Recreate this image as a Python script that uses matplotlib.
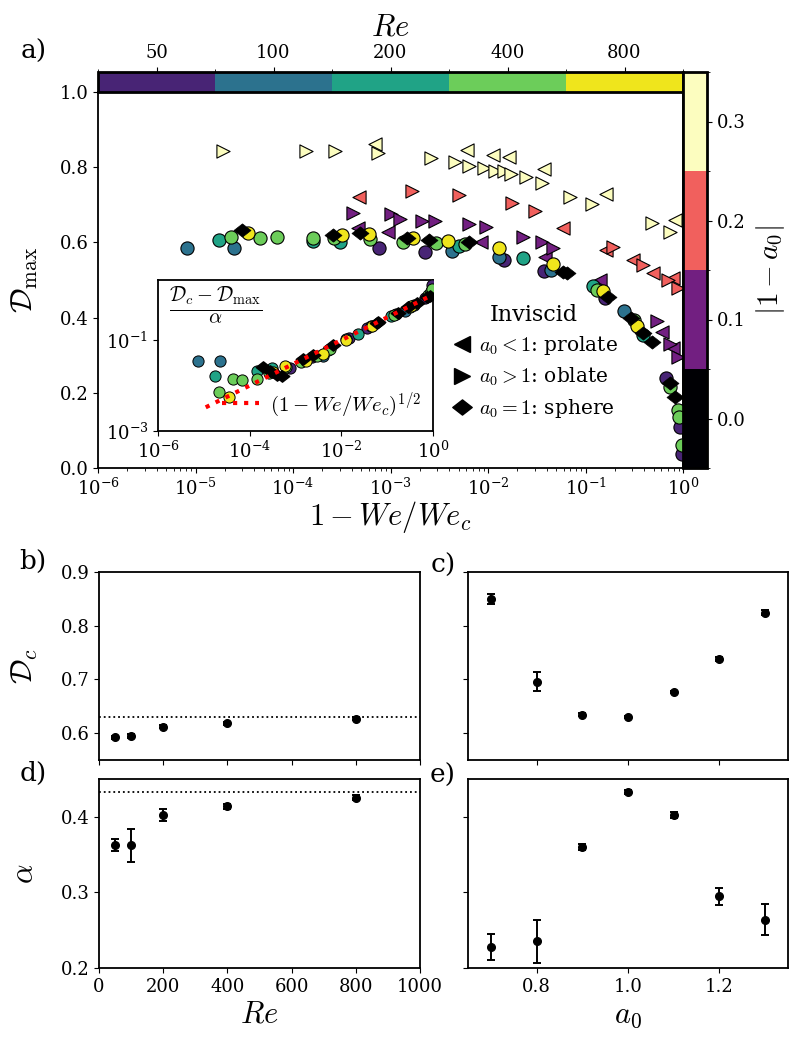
import numpy as np
import matplotlib
matplotlib.use("Agg")
import matplotlib.pyplot as plt
from matplotlib.colors import ListedColormap, BoundaryNorm
from matplotlib.lines import Line2D
from matplotlib.path import Path
import matplotlib.cm as cm

plt.rcParams['font.family'] = ['DejaVu Serif']
plt.rcParams['mathtext.fontset'] = 'cm'
plt.rcParams['axes.unicode_minus'] = False
plt.rcParams['axes.linewidth'] = 1.3
plt.rcParams['xtick.labelsize'] = 13
plt.rcParams['ytick.labelsize'] = 13

# ==========================================
# data
# ==========================================
re_vals = [50, 100, 200, 400, 800]
re_colors = ['#482475', '#2c728e', '#20a386', '#6ccd5a', '#efe51c']

# panel a: log10(1 - We/We_c) and D_max, viscous spheres (circles)
re50_lx = [-3.12, -2.65, -1.84, -1.43, -0.80, -0.17, -0.03, -0.015]
re50_d = [0.584, 0.574, 0.553, 0.525, 0.451, 0.240, 0.110, 0.036]
re100_lx = [-5.09, -4.61, -2.37, -1.89, -1.35, -0.61]
re100_d = [0.584, 0.584, 0.577, 0.562, 0.527, 0.417]
re200_lx = [-4.756, -3.80, -3.518, -2.30, -1.64, -0.92, -0.41]
re200_d = [0.606, 0.604, 0.602, 0.590, 0.559, 0.483, 0.355]
re400_lx = [-4.636, -4.34, -4.16, -3.80, -3.576, -3.21, -2.87, -2.53, -2.24,
            -0.88, -0.50, -0.13, -0.05, -0.04, -0.015]
re400_d = [0.615, 0.612, 0.614, 0.613, 0.611, 0.608, 0.602, 0.599, 0.595,
           0.473, 0.394, 0.216, 0.154, 0.136, 0.061]
re800_lx = [-4.46, -3.50, -3.217, -2.77, -2.41, -1.89, -1.33, -0.82, -0.475]
re800_d = [0.626, 0.620, 0.622, 0.611, 0.604, 0.586, 0.543, 0.472, 0.378]
re_lx = [re50_lx, re100_lx, re200_lx, re400_lx, re800_lx]
re_d = [re50_d, re100_d, re200_d, re400_d, re800_d]

# inviscid sphere a0 = 1 (diamonds)
sph_lx = [-4.526, -3.593, -3.313, -2.83, -2.61, -2.19, -1.23, -1.19, -0.77,
          -0.53, -0.41, -0.32, -0.13, -0.085]
sph_d = [0.633, 0.620, 0.624, 0.611, 0.606, 0.600, 0.522, 0.518, 0.456,
         0.398, 0.358, 0.336, 0.225, 0.190]

# inviscid spheroids (triangles)
a0_07_lx = [-3.159, -2.22, -1.95, -1.78, -1.43, -0.785, -0.08]
a0_07_d = [0.862, 0.846, 0.832, 0.828, 0.794, 0.729, 0.660]
a0_08_lx = [-3.32, -1.23, -0.79, -0.51, -0.31, -0.10]
a0_08_d = [0.720, 0.639, 0.580, 0.553, 0.518, 0.504]
a0_09_lx = [-3.33, -3.03, -2.07, -1.415, -0.85, -0.22, -0.10]
a0_09_d = [0.639, 0.628, 0.602, 0.562, 0.500, 0.363, 0.318]
a0_11_lx = [-3.38, -2.99, -2.90, -2.68, -2.54, -2.20, -2.02, -1.64, -1.45,
            -1.33, -0.27, -0.13, -0.05]
a0_11_d = [0.677, 0.675, 0.661, 0.657, 0.657, 0.648, 0.642, 0.615, 0.602,
           0.584, 0.392, 0.330, 0.296]
a0_12_lx = [-2.78, -2.30, -1.75, -1.52, -0.716, -0.41, -0.15, -0.05]
a0_12_d = [0.737, 0.726, 0.706, 0.684, 0.587, 0.540, 0.500, 0.478]
a0_13_lx = [-4.715, -3.867, -3.569, -3.128, -2.58, -2.34, -2.19, -2.04, -1.93,
            -1.84, -1.76, -1.61, -1.45, -1.155, -0.93, -0.32, -0.13]
a0_13_d = [0.844, 0.844, 0.843, 0.837, 0.825, 0.813, 0.803, 0.797, 0.791,
           0.791, 0.781, 0.773, 0.757, 0.722, 0.702, 0.652, 0.627]
tri_a0 = [0.7, 0.8, 0.9, 1.1, 1.2, 1.3]
tri_lx = [a0_07_lx, a0_08_lx, a0_09_lx, a0_11_lx, a0_12_lx, a0_13_lx]
tri_d = [a0_07_d, a0_08_d, a0_09_d, a0_11_d, a0_12_d, a0_13_d]

# inset: log10(1 - We/We_c) and log10((D_c - D_max)/alpha)
in50_lx = [-3.12, -2.65, -1.84, -1.43, -0.80, -0.17, -0.03, -0.015]
in50_ly = [-1.62, -1.38, -0.95, -0.74, -0.42, -0.08, 0.10, 0.21]
in100_lx = [-5.12, -4.65, -2.40, -1.89, -1.35, -0.61]
in100_ly = [-1.46, -1.46, -1.36, -0.97, -0.70, -0.35]
in200_lx = [-4.76, -3.83, -3.52, -2.30, -1.64, -0.92, -0.41]
in200_ly = [-1.79, -1.68, -1.62, -1.22, -0.87, -0.47, -0.22]
in400_lx = [-4.66, -4.36, -4.17, -3.83, -3.58, -3.21, -2.87, -2.53, -2.24,
            -0.85, -0.50, -0.10, -0.05, -0.04, -0.025]
in400_ly = [-2.14, -1.85, -1.88, -1.85, -1.72, -1.60, -1.48, -1.35, -1.20,
            -0.44, -0.28, 0.00, 0.05, 0.07, 0.13]
in800_lx = [-4.45, -3.50, -3.22, -2.77, -2.41, -1.89, -1.33, -0.475]
in800_ly = [-2.25, -1.70, -1.58, -1.45, -1.30, -1.00, -0.70, -0.25]
in_lx = [in50_lx, in100_lx, in200_lx, in400_lx, in800_lx]
in_ly = [in50_ly, in100_ly, in200_ly, in400_ly, in800_ly]
insph_lx = [-3.70, -3.55, -3.40, -3.30, -2.83, -2.61, -2.19, -1.23, -1.19,
            -0.77, -0.54, -0.34, -0.13, -0.07]
insph_ly = [-1.60, -1.68, -1.76, -1.80, -1.42, -1.33, -1.10, -0.62, -0.60,
            -0.40, -0.28, -0.18, -0.06, -0.03]

# panels b-e
dc_re = [0.5926, 0.595, 0.6123, 0.618, 0.627]
dc_re_err = [0.003, 0.004, 0.003, 0.003, 0.003]
alpha_re = [0.3624, 0.3624, 0.402, 0.4137, 0.4252]
alpha_re_err = [0.0078, 0.0216, 0.0077, 0.003, 0.003]
a0_vals = [0.7, 0.8, 0.9, 1.0, 1.1, 1.2, 1.3]
dc_a0 = [0.849, 0.6958, 0.6346, 0.6303, 0.6773, 0.738, 0.8246]
dc_a0_err = [0.0095, 0.0173, 0.002, 0.002, 0.002, 0.004, 0.004]
alpha_a0 = [0.2278, 0.2352, 0.3597, 0.4326, 0.4021, 0.2948, 0.264]
alpha_a0_err = [0.0172, 0.028, 0.004, 0.003, 0.004, 0.011, 0.0208]
dc_inviscid = 0.63
alpha_inviscid = 0.433

# ==========================================
# figure layout
# ==========================================
W, H = 791, 1042
fig = plt.figure(figsize=(W / 100, H / 100), dpi=100)


def box(x0, y0, x1, y1):
    # pixel box -> figure fraction
    return [x0 / W, 1 - y1 / H, (x1 - x0) / W, (y1 - y0) / H]


ax = fig.add_axes(box(98, 92, 683, 468))
cax_re = fig.add_axes(box(98, 72, 683, 92))
cax_a = fig.add_axes(box(683, 72, 707, 468))
axin = fig.add_axes(box(158, 280, 433, 431))
ax_b = fig.add_axes(box(99, 572, 420, 760))
ax_d = fig.add_axes(box(99, 779, 420, 968))
ax_c = fig.add_axes(box(468, 572, 788, 760))
ax_e = fig.add_axes(box(468, 779, 788, 968))

a_cmap = plt.get_cmap('magma', 4)
a_norm = BoundaryNorm([-0.05, 0.05, 0.15, 0.25, 0.35], 4)
re_cmap = ListedColormap(re_colors)
re_norm = BoundaryNorm(np.arange(6), 5)

diamond = Path([(-1, 0), (0, 0.78), (1, 0), (0, -0.78), (-1, 0)],
               [Path.MOVETO, Path.LINETO, Path.LINETO, Path.LINETO, Path.CLOSEPOLY])

# ------------------------------------------
# panel a
# ------------------------------------------
for a0, lx, d in zip(tri_a0, tri_lx, tri_d):
    mk = '<' if a0 < 1 else '>'
    ax.scatter(np.power(10.0, lx), d, marker=mk, s=90,
               color=a_cmap(a_norm(abs(1 - a0))), edgecolors='black',
               linewidths=0.8, zorder=3)
for c, lx, d in zip(re_colors, re_lx, re_d):
    ax.scatter(np.power(10.0, lx), d, marker='o', s=90, color=c,
               edgecolors='black', linewidths=0.8, zorder=4)
ax.scatter(np.power(10.0, sph_lx), sph_d, marker=diamond, s=150, color='black',
           edgecolors='black', linewidths=0.5, zorder=5)

ax.set_xscale('log')
ax.set_xlim(1e-6, 1)
ax.set_ylim(0, 1)
ax.set_yticks([0, 0.2, 0.4, 0.6, 0.8, 1.0])
ax.set_xlabel(r'$1-We/We_c$', fontsize=22, labelpad=0)
ax.set_ylabel(r'$\mathcal{D}_{\max}$', fontsize=22)
ax.yaxis.set_label_coords(-0.1, 0.5)

handles = [Line2D([], [], marker='<', ls='', color='black', markersize=11),
           Line2D([], [], marker='>', ls='', color='black', markersize=11),
           Line2D([], [], marker=diamond, ls='', color='black', markersize=14)]
labels = [r'$a_0<1$: prolate', r'$a_0>1$: oblate', r'$a_0=1$: sphere']
leg = ax.legend(handles, labels, title='Inviscid', loc='upper left',
                bbox_to_anchor=(0.57, 0.485), frameon=False, fontsize=14.5,
                title_fontsize=16, handletextpad=0.25, labelspacing=0.42,
                handlelength=1.2)

# colorbars
cb_re = fig.colorbar(cm.ScalarMappable(norm=re_norm, cmap=re_cmap), cax=cax_re,
                     orientation='horizontal', ticklocation='top')
cb_re.set_ticks(np.arange(5) + 0.5, labels=[str(r) for r in re_vals])
cb_re.outline.set_linewidth(2)
cb_re.set_label(r'$Re$', fontsize=22, labelpad=6)

cb_a = fig.colorbar(cm.ScalarMappable(norm=a_norm, cmap=a_cmap), cax=cax_a)
cb_a.set_ticks([0.0, 0.1, 0.2, 0.3])
cb_a.outline.set_linewidth(2)
cb_a.set_label(r'$|1-a_0|$', fontsize=21, labelpad=6)

# ------------------------------------------
# inset
# ------------------------------------------
fit_x = np.logspace(np.log10(1.1e-5), 0, 50)
axin.plot(fit_x, np.sqrt(fit_x), ls=':', color='red', lw=3, zorder=6,
          label=r'$(1-We/We_c)^{1/2}$')
for c, lx, ly in zip(re_colors, in_lx, in_ly):
    axin.scatter(np.power(10.0, lx), np.power(10.0, ly), marker='o', s=65,
                 color=c, edgecolors='black', linewidths=0.7, zorder=4)
axin.scatter(np.power(10.0, insph_lx), np.power(10.0, insph_ly), marker=diamond,
             s=110, color='black', zorder=5)
axin.set_xscale('log')
axin.set_yscale('log')
axin.set_xlim(1e-6, 1)
axin.set_ylim(1e-3, 2.1)
axin.set_xticks([1e-6, 1e-4, 1e-2, 1])
axin.set_yticks([1e-3, 1e-1])
axin.minorticks_off()
axin.legend(loc='lower right', frameon=False, fontsize=15, handlelength=1.8,
            handletextpad=0.5, borderaxespad=0.2)
axin.text(0.04, 0.97, r'$\frac{\mathcal{D}_c-\mathcal{D}_{\max}}{\alpha}$',
          transform=axin.transAxes, fontsize=21, va='top', ha='left')

# ------------------------------------------
# panels b - e
# ------------------------------------------
eb = dict(fmt='o', color='black', markersize=5.5, capsize=3, elinewidth=1.4,
          capthick=1.4)
ax_b.errorbar(re_vals, dc_re, yerr=dc_re_err, **eb)
ax_b.axhline(dc_inviscid, ls=':', color='black', lw=1.3)
ax_d.errorbar(re_vals, alpha_re, yerr=alpha_re_err, **eb)
ax_d.axhline(alpha_inviscid, ls=':', color='black', lw=1.3)
ax_c.errorbar(a0_vals, dc_a0, yerr=dc_a0_err, **eb)
ax_e.errorbar(a0_vals, alpha_a0, yerr=alpha_a0_err, **eb)

for a in (ax_b, ax_c):
    a.set_ylim(0.55, 0.9)
    a.set_yticks([0.6, 0.7, 0.8, 0.9])
for a in (ax_d, ax_e):
    a.set_ylim(0.2, 0.45)
    a.set_yticks([0.2, 0.3, 0.4])
for a in (ax_b, ax_d):
    a.set_xlim(0, 1000)
    a.set_xticks([0, 200, 400, 600, 800, 1000])
for a in (ax_c, ax_e):
    a.set_xlim(0.65, 1.35)
    a.set_xticks([0.8, 1.0, 1.2])
    a.tick_params(labelleft=False)
for a in (ax_b, ax_c):
    a.tick_params(labelbottom=False)

ax_b.set_ylabel(r'$\mathcal{D}_c$', fontsize=22)
ax_d.set_ylabel(r'$\alpha$', fontsize=22)
ax_b.yaxis.set_label_coords(-0.185, 0.5)
ax_d.yaxis.set_label_coords(-0.185, 0.5)
ax_d.set_xlabel(r'$Re$', fontsize=22, labelpad=2)
ax_e.set_xlabel(r'$a_0$', fontsize=22, labelpad=2)

for a in (ax, cax_re, cax_a, axin, ax_b, ax_c, ax_d, ax_e):
    a.tick_params(labelsize=13, labelfontfamily='DejaVu Serif')

# panel letters
for lab, px, py in [('a)', 34, 51), ('b)', 33, 561), ('d)', 33, 773),
                    ('c)', 443, 565), ('e)', 443, 775)]:
    fig.text(px / W, 1 - py / H, lab, fontsize=19, ha='center', va='center')

fig.savefig('out.png', dpi=100)
plt.close(fig)
